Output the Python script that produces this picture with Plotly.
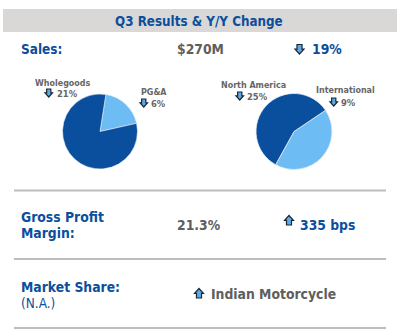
import plotly.graph_objects as go

W, H = 397, 332

# ---- data ----
title_text = "Q3 Results & Y/Y Change"
sales_label = "Sales:"
sales_value = "$270M"
sales_change = "19%"
seg_labels = ["PG&A", "Wholegoods"]
seg_values = [19, 81]
seg_changes = ["6%", "21%"]
geo_labels = ["International", "North America"]
geo_values = [42.5, 57.5]
geo_changes = ["9%", "25%"]
gpm_label = ["Gross Profit", "Margin:"]
gpm_value = "21.3%"
gpm_change = "335 bps"
ms_label = "Market Share:"
ms_sub = "(N.A.)"
ms_value = "Indian Motorcycle"

DARK = "#0A4F9E"
LIGHT = "#6DBCF4"
BLUE_TXT = "#0B4F9C"
GRAY_TXT = "#5E5E5E"
FONT = "DejaVu Sans Condensed, DejaVu Sans"


def px(x):
    return x / W


def py(y):
    return 1 - y / H


fig = go.Figure()

# pies
fig.add_trace(go.Pie(
    labels=seg_labels, values=seg_values, sort=False, direction="clockwise",
    rotation=9, textinfo="none", hoverinfo="label+percent",
    marker=dict(colors=[LIGHT, DARK], line=dict(color="#E8EEF5", width=0.6)),
    domain=dict(x=[px(62.5), px(137.5)], y=[py(169), py(94)]),
    showlegend=False,
))
fig.add_trace(go.Pie(
    labels=geo_labels, values=geo_values, sort=False, direction="clockwise",
    rotation=56, textinfo="none", hoverinfo="label+percent",
    marker=dict(colors=[LIGHT, DARK], line=dict(color="#E8EEF5", width=0.8)),
    domain=dict(x=[px(256), px(332)], y=[py(169.5), py(93.5)]),
    showlegend=False,
))

shapes = []
annotations = []

# header band
shapes.append(dict(type="rect", xref="paper", yref="paper",
                   x0=px(3), x1=px(397), y0=py(32), y1=py(9),
                   fillcolor="#D9D8D7", line=dict(width=0), layer="below"))

# separators
for yy in [190.5, 259, 328]:
    shapes.append(dict(type="line", xref="paper", yref="paper",
                       x0=px(14), x1=px(386), y0=py(yy), y1=py(yy),
                       line=dict(color="#BDBDBD", width=2)))


def arrow(x0, y0, w, h, down=True):
    sw = w * 0.56
    hh = h * 0.48
    cx = x0 + w / 2
    if down:
        pts = [(cx - sw / 2, y0), (cx + sw / 2, y0), (cx + sw / 2, y0 + hh),
               (x0 + w, y0 + hh), (cx, y0 + h), (x0, y0 + hh),
               (cx - sw / 2, y0 + hh)]
    else:
        pts = [(cx - sw / 2, y0 + h), (cx + sw / 2, y0 + h), (cx + sw / 2, y0 + h - hh),
               (x0 + w, y0 + h - hh), (cx, y0), (x0, y0 + h - hh),
               (cx - sw / 2, y0 + h - hh)]
    path = "M " + " L ".join(f"{px(a):.5f},{py(b):.5f}" for a, b in pts) + " Z"
    shapes.append(dict(type="path", xref="paper", yref="paper", path=path,
                       fillcolor="#5DA9E9", line=dict(color="#1B2733", width=1.2)))


def text(x, y, s, size, color, bold=True, anchor="left"):
    annotations.append(dict(
        xref="paper", yref="paper", x=px(x), y=py(y), text=(f"<b>{s}</b>" if bold else s),
        showarrow=False, xanchor=anchor, yanchor="middle",
        font=dict(family=FONT, size=size, color=color)))


text(199, 21, title_text, 13.3, BLUE_TXT, anchor="center")

text(19, 49, sales_label, 13.5, BLUE_TXT)
text(175, 49, sales_value, 13.8, GRAY_TXT)
arrow(295, 44.5, 9, 9.5, down=True)
text(310, 49, sales_change, 13.8, BLUE_TXT)

# pie labels
text(33, 82.5, seg_labels[1], 8.9, "#666666")
arrow(45, 89, 7.5, 8, down=True)
text(55, 93.5, seg_changes[1], 9.4, "#666666")
text(139, 92, seg_labels[0], 8.9, "#666666")
arrow(140, 99, 7.5, 8, down=True)
text(149, 103, seg_changes[0], 9.4, "#666666")

text(219, 85, geo_labels[1], 8.9, "#666666")
arrow(236, 92, 7.5, 8, down=True)
text(245, 96.5, geo_changes[1], 9.4, "#666666")
text(314, 90, geo_labels[0], 8.9, "#666666")
arrow(330, 98, 7.5, 8, down=True)
text(339, 102.5, geo_changes[0], 9.4, "#666666")

# gross profit
text(19, 217, gpm_label[0], 13.8, BLUE_TXT)
text(19, 233, gpm_label[1], 13.8, BLUE_TXT)
text(175, 225, gpm_value, 13.8, GRAY_TXT)
arrow(284.5, 215.5, 9, 9.5, down=False)
text(298, 225, gpm_change, 13.8, BLUE_TXT)

# market share
text(19, 287, ms_label, 13.8, BLUE_TXT)
text(19, 303, ms_sub, 13.5, BLUE_TXT, bold=False)
arrow(194.5, 288.5, 9, 9.5, down=False)
text(209, 294, ms_value, 13.8, GRAY_TXT)

fig.update_layout(
    width=W, height=H, margin=dict(l=0, r=0, t=0, b=0),
    paper_bgcolor="white", plot_bgcolor="white",
    shapes=shapes, annotations=annotations, showlegend=False,
)

fig.write_html("out.html", config=dict(displayModeBar=False))
